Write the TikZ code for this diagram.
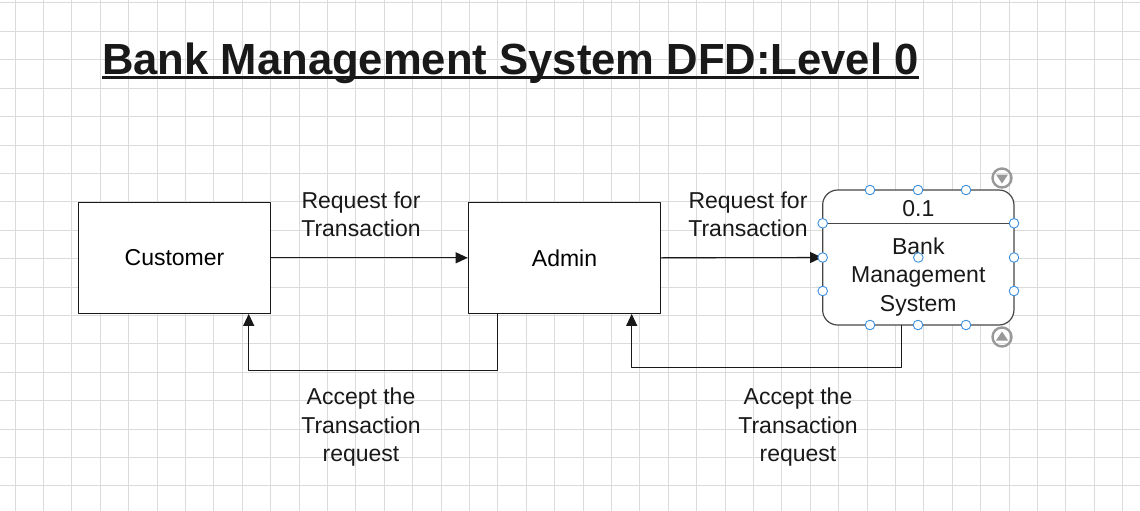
\documentclass[tikz,border=0pt]{standalone}
\usepackage{fontspec}
\setmainfont{Liberation Sans}
\usepackage{tikz}
\usetikzlibrary{arrows.meta}
\definecolor{gridgray}{rgb}{0.86,0.86,0.86}
\definecolor{inkblack}{rgb}{0.1,0.1,0.1}
\definecolor{handleblue}{rgb}{0.24,0.56,0.87}
\definecolor{icongray}{rgb}{0.6,0.6,0.6}
\tikzset{
  entity/.style={draw=inkblack,line width=1.2pt,fill=white,minimum width=192.4pt,minimum height=111pt,font=\fontsize{23}{28}\selectfont},
  process/.style={draw=inkblack!80,line width=1.2pt,fill=white,rounded corners=15pt,minimum width=191.3pt,minimum height=135pt},
  flow/.style={draw=inkblack,line width=1.1pt,-{Triangle[length=12pt,width=11pt]}},
  flowlabel/.style={align=center,text=inkblack,font=\fontsize{23}{28.5}\selectfont},
  handle/.style={draw=handleblue,fill=white,line width=0.9pt}
}
\begin{document}
\begin{tikzpicture}[line cap=round,line join=round,x=1pt,y=-1pt]
		\useasboundingbox[fill=white] (0,0) rectangle (1140,511);
		%grid
		\foreach \i in {0,...,39}
		\draw [color=gridgray,line width=1pt] (15+28.4*\i,0) -- (15+28.4*\i,511);
		\foreach \j in {0,...,17}
		\draw [color=gridgray,line width=1pt] (0,3+28.4*\j) -- (1140,3+28.4*\j);
		%title
		\node [anchor=base west,inner sep=0pt,text=inkblack,font=\fontsize{43.6}{52}\selectfont\bfseries] (title) at (102,74.5) {Bank Management System DFD:Level 0};
		\draw [color=inkblack,line width=3.2pt,line cap=butt] ([yshift=-3.3pt]title.base west) -- ([yshift=-3.3pt]title.base east);
		%entities and process
		\node [entity] (cust) at (174.5,257.8) {Customer};
		\node [entity] (admin) at (564.5,257.8) {Admin};
		\node [process] (bms) at (918.3,257.5) {};
		\draw [color=inkblack!80,line width=1.2pt] (bms.west |- 0,223.3) -- (bms.east |- 0,223.3);
		\node [text=inkblack,font=\fontsize{23}{28}\selectfont] (bmsid) at (918.3,209) {0.1};
		\node [align=center,text=inkblack,font=\fontsize{23}{28.5}\selectfont] (bmsname) at (918.3,277) {Bank\\Management\\System};
		%flows
		\draw [flow] (cust.east) -- (admin.west);
		\draw [flow] (admin.east) -- (bms.west);
		\draw [flow] ([xshift=-66.8pt]admin.south) -- ++(0,57) -| ([xshift=74.2pt]cust.south);
		\draw [flow] ([xshift=-16.6pt]bms.south) -- ++(0,42.3) -| ([xshift=67.2pt]admin.south);
		\node [flowlabel] (req1) at (361,214.5) {Request for\\Transaction};
		\node [flowlabel] (req2) at (748,214.5) {Request for\\Transaction};
		\node [flowlabel] (acc1) at (361,427.5) {Accept the\\Transaction\\request};
		\node [flowlabel] (acc2) at (798,427.5) {Accept the\\Transaction\\request};
		%selection handles
		\foreach \hx in {870,918,966} {
		\draw [handle] (\hx,190) circle (4.8pt);
		\draw [handle] (\hx,325) circle (4.8pt);
		}
		\foreach \hy in {223.3,257.5,291} {
		\draw [handle] (822.7,\hy) circle (4.8pt);
		\draw [handle] (1014,\hy) circle (4.8pt);
		}
		\draw [handle] (918.3,257.5) circle (4.8pt);
		\draw [color=icongray,line width=2.4pt] (1002,178) circle (9.5pt);
		\fill [color=icongray] (996,174.5) -- (1008,174.5) -- (1002,183.5) -- cycle;
		\draw [color=icongray,line width=2.4pt] (1002,337) circle (9.5pt);
		\fill [color=icongray] (996,340.5) -- (1008,340.5) -- (1002,331.5) -- cycle;
		\end{tikzpicture}
\end{document}
